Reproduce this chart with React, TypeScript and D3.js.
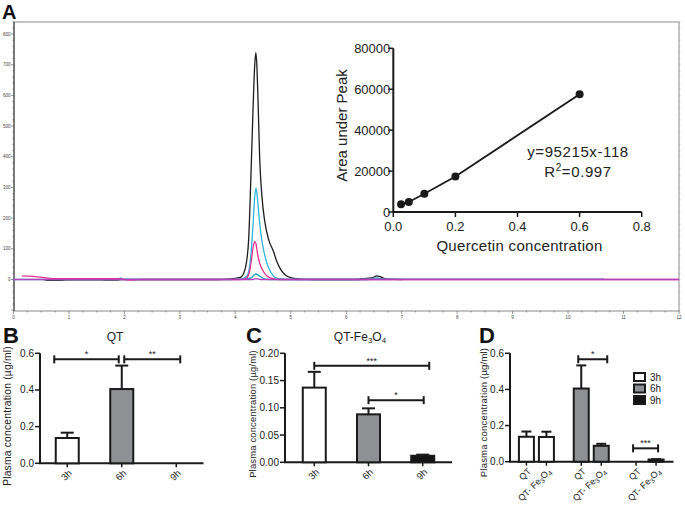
import React from 'react';
import * as d3 from 'd3';

const W = 685, H = 505;
const FONT = 'Arial, "Liberation Sans", Helvetica, sans-serif';

// ---------- Panel A: chromatogram traces (time in min, signal) ----------
const traceBlack: [number, number][] = [
  [0.55, 0], [0.65, -3], [0.85, -3], [0.95, -1], [1.55, -1], [1.65, -2], [1.85, -2], [1.95, 0],
  [3.7, 0], [3.9, 2], [4.0, 4], [4.1, 8], [4.15, 20], [4.2, 55], [4.24, 130], [4.28, 330],
  [4.32, 560], [4.35, 700], [4.37, 739], [4.39, 690], [4.41, 580], [4.44, 390], [4.48, 270],
  [4.53, 190], [4.6, 130], [4.68, 95], [4.75, 58], [4.82, 32], [4.9, 15], [5.0, 6], [5.15, 2],
  [5.4, 0], [6.2, 0], [6.3, 3], [6.45, 5], [6.5, 8], [6.55, 12], [6.6, 10], [6.68, 4], [6.8, 1], [7.0, 0],
];
const traceCyan: [number, number][] = [
  [0, 0], [1.88, 0], [1.93, 5], [1.98, 0], [3.9, 0], [4.1, 2], [4.2, 10], [4.25, 35], [4.29, 100],
  [4.32, 180], [4.35, 270], [4.37, 298], [4.39, 280], [4.42, 220], [4.46, 150], [4.5, 105],
  [4.55, 65], [4.6, 38], [4.66, 18], [4.72, 6], [4.8, 2], [5.0, 0], [6.3, 0], [6.45, 2],
  [6.55, 5], [6.65, 2], [6.8, 1], [10.65, 1],
];
const traceMagenta: [number, number][] = [
  [0.15, 12], [0.35, 10], [0.6, 5], [0.8, 3], [1.9, 3], [2.0, 0], [2.1, -2], [2.2, -1], [2.3, 0],
  [4.1, 0], [4.2, 5], [4.25, 22], [4.29, 62], [4.32, 105], [4.35, 123], [4.37, 118], [4.4, 85],
  [4.43, 58], [4.48, 35], [4.55, 15], [4.62, 6], [4.7, 2], [4.8, 0], [12, 0],
];
const traceTeal: [number, number][] = [
  [4.15, 0], [4.28, 5], [4.37, 18], [4.43, 12], [4.5, 4], [4.6, 0], [6.4, 0], [6.55, 2], [6.7, 0],
];
const traceViolet: [number, number][] = [
  [0, 0], [2.45, 0], [4.3, 0], [4.37, 3], [4.45, 0], [12, 0],
];
const chromTraces = [
  { pts: traceBlack, color: '#1d1d1d' },
  { pts: traceCyan, color: '#2fb4dc' },
  { pts: traceTeal, color: '#2aa6b8' },
  { pts: traceMagenta, color: '#e5318e' },
  { pts: traceViolet, color: '#b43fbf' },
];
const chromXTicks = d3.range(0, 13);
const chromYTicks = [0, 100, 200, 300, 400, 500, 600, 700, 800];

// ---------- Panel A inset: calibration ----------
const calConc = [0.025, 0.05, 0.1, 0.2, 0.6];
const calArea = [3800, 4900, 8900, 17300, 57600];
const insetXTicks = [0, 0.2, 0.4, 0.6, 0.8];
const insetYTicks = [0, 20000, 40000, 60000, 80000];

// ---------- Panels B-D ----------
const timeCats = ['3h', '6h', '9h'];
const qtMean = [0.138, 0.405, 0];
const qtSem = [0.029, 0.128, 0];
const feMean = [0.137, 0.088, 0.012];
const feSem = [0.029, 0.011, 0.002];
const timeFills = ['#ffffff', '#8e9093', '#141414'];
const ticksB = [0, 0.2, 0.4, 0.6];
const ticksC = [0, 0.05, 0.1, 0.15, 0.2];
const groupsD = ['QT', 'QT-Fe3O4'];

const INK = '#1a1a1a';

function Fe3O4({ small = 7 }: { small?: number }) {
  return (
    <>
      Fe<tspan dy={2} fontSize={small}>3</tspan><tspan dy={-2}>O</tspan><tspan dy={2} fontSize={small}>4</tspan>
    </>
  );
}

function Bar({ cx, w, y, v, sem, fill, cap }: any) {
  const top = y(v), base = y(0);
  return (
    <g>
      {sem > 0 && (
        <g stroke={INK} strokeWidth={2}>
          <line x1={cx} x2={cx} y1={top} y2={y(v + sem)} />
          <line x1={cx - cap / 2} x2={cx + cap / 2} y1={y(v + sem)} y2={y(v + sem)} />
        </g>
      )}
      {v > 0 && (
        <rect x={cx - w / 2} y={top} width={w} height={base - top} fill={fill} stroke={INK} strokeWidth={2} />
      )}
    </g>
  );
}

function Bracket({ x1, x2, yy, label }: any) {
  return (
    <g>
      <g stroke={INK} strokeWidth={2}>
        <line x1={x1} x2={x2} y1={yy} y2={yy} />
        <line x1={x1} x2={x1} y1={yy - 4} y2={yy + 4} />
        <line x1={x2} x2={x2} y1={yy - 4} y2={yy + 4} />
      </g>
      <text x={(x1 + x2) / 2} y={yy - 2} textAnchor="middle" fontSize={9} fill={INK}>{label}</text>
    </g>
  );
}

function YAxis({ x0, y, ticks, fmt, x1 }: any) {
  const [d0, d1] = y.domain();
  return (
    <g>
      <line x1={x0} x2={x0} y1={y(d0)} y2={y(d1)} stroke={INK} strokeWidth={2} />
      <line x1={x0 - 1} x2={x1} y1={y(0)} y2={y(0)} stroke={INK} strokeWidth={2} />
      {ticks.map((t: number) => (
        <g key={t}>
          <line x1={x0 - 5} x2={x0} y1={y(t)} y2={y(t)} stroke={INK} strokeWidth={1.5} />
          <text x={x0 - 6} y={y(t)} dy="0.35em" textAnchor="end" fontSize={10} fill="#222">{fmt(t)}</text>
        </g>
      ))}
    </g>
  );
}

function YLabel({ cx, cy, fs = 10.5 }: any) {
  return (
    <text transform={`translate(${cx},${cy}) rotate(-90)`} textAnchor="middle" dy="0.35em" fontSize={fs} fill="#222" letterSpacing={0.2}>
      Plasma concentration (µg/ml)
    </text>
  );
}

export default function App() {
  // Panel A
  const xA = d3.scaleLinear([0, 12], [13.5, 679]);
  const yA = d3.scaleLinear([0, 800], [279.5, 34]);
  const lineA = d3.line<[number, number]>().x(d => xA(d[0])).y(d => yA(d[1])).curve(d3.curveMonotoneX);
  const frame = { l: 14, r: 679, t: 22, b: 311 };
  const minorY = d3.range(-100, 841, 20);
  const minorX = d3.range(0, 12.01, 0.25);

  // inset
  const xI = d3.scaleLinear([0, 0.8], [393.3, 641.7]);
  const yI = d3.scaleLinear([0, 80000], [212, 48.3]);
  const lineI = d3.line<number>().x((_, i) => xI(calConc[i])).y(d => yI(d));

  // B
  const yB = d3.scaleLinear([0, 0.6], [463.3, 353.3]);
  const xB = d3.scalePoint<string>().domain(timeCats).range([40, 203.5]).padding(0.5);
  // C
  const yC = d3.scaleLinear([0, 0.2], [462.3, 353.3]);
  const xC = d3.scalePoint<string>().domain(timeCats).range([285, 452]).padding(0.54);
  // D
  const yD = d3.scaleLinear([0, 0.6], [461.7, 353.3]);
  const xD = d3.scaleBand<string>().domain(timeCats).range([509, 673.5]);
  const xDs = d3.scaleBand<string>().domain(groupsD).range([-20, 20]);
  const dCx = (t: string, g: string) => (xD(t) as number) + xD.bandwidth() / 2 + (xDs(g) as number) + xDs.bandwidth() / 2;

  const f1 = d3.format('.1f');
  const f2 = d3.format('.2f');

  return (
    <div style={{ position: 'fixed', left: 0, top: 0 }}>
      <svg width={W} height={H} style={{ display: 'block', background: '#fff' }} fontFamily={FONT}>
        <rect width={W} height={H} fill="#fff" />
        {/* ===== Panel A ===== */}
        <text x={2} y={18.5} fontSize={20} fontWeight="bold" fill="#111">A</text>
        <rect x={frame.l} y={frame.t} width={frame.r - frame.l} height={frame.b - frame.t} fill="none" stroke="#8a8a8a" strokeWidth={1} />
        <line x1={frame.l} x2={frame.l} y1={frame.t} y2={frame.b} stroke="#333" strokeWidth={1} />
        {minorY.map(v => (
          <g key={'my' + v}>
            <line x1={frame.l - (v % 100 === 0 ? 3 : 1.5)} x2={frame.l} y1={yA(v)} y2={yA(v)} stroke="#555" strokeWidth={0.6} />
            <line x1={frame.r} x2={frame.r + 1.5} y1={yA(v)} y2={yA(v)} stroke="#999" strokeWidth={0.5} />
          </g>
        ))}
        {chromYTicks.map(v => (
          <text key={'ly' + v} x={10.5} y={yA(v)} dy="0.35em" textAnchor="end" fontSize={4.5} fill="#444">{v}</text>
        ))}
        {minorX.map(v => (
          <line key={'mx' + v} x1={xA(v)} x2={xA(v)} y1={frame.b} y2={frame.b + (Math.abs(v - Math.round(v)) < 1e-6 ? 3 : 1.5)} stroke="#555" strokeWidth={0.6} />
        ))}
        {chromXTicks.map(v => (
          <text key={'lx' + v} x={xA(v)} y={frame.b + 7.5} textAnchor="middle" fontSize={4.5} fill="#444">{v}</text>
        ))}
        {chromTraces.map((tr, i) => (
          <path key={'tr' + i} d={lineA(tr.pts) as string} fill="none" stroke={tr.color} strokeWidth={1.3} />
        ))}

        {/* inset calibration */}
        <g>
          <line x1={xI(0)} x2={xI(0.8)} y1={yI(0)} y2={yI(0)} stroke={INK} strokeWidth={2} />
          <line x1={xI(0)} x2={xI(0)} y1={yI(0)} y2={yI(80000)} stroke={INK} strokeWidth={2} />
          {insetYTicks.map(t => (
            <g key={'iy' + t}>
              <line x1={xI(0) - 5} x2={xI(0)} y1={yI(t)} y2={yI(t)} stroke={INK} strokeWidth={1.5} />
              <text x={xI(0) - 3} y={yI(t)} dy="0.35em" textAnchor="end" fontSize={13} fill="#222">{t}</text>
            </g>
          ))}
          {insetXTicks.map(t => (
            <g key={'ix' + t}>
              <line x1={xI(t)} x2={xI(t)} y1={yI(0)} y2={yI(0) + 5} stroke={INK} strokeWidth={1.5} />
              <text x={xI(t)} y={231} textAnchor="middle" fontSize={13} fill="#222">{f1(t)}</text>
            </g>
          ))}
          <path d={lineI(calArea) as string} fill="none" stroke={INK} strokeWidth={1.8} />
          {calArea.map((a, i) => (
            <circle key={'pt' + i} cx={xI(calConc[i])} cy={yI(a)} r={4} fill={INK} />
          ))}
          <text transform={`translate(342,125.5) rotate(-90)`} textAnchor="middle" dy="0.35em" fontSize={15} fill="#222">Area under Peak</text>
          <text x={519.5} y={251} textAnchor="middle" fontSize={15} fill="#222" letterSpacing={0.3}>Quercetin concentration</text>
          <text x={578} y={157} textAnchor="middle" fontSize={15} fill="#222" letterSpacing={0.6}>y=95215x-118</text>
          <text x={578} y={177} textAnchor="middle" fontSize={15} fill="#222" letterSpacing={0.6}>
            R<tspan dy={-6} fontSize={10}>2</tspan><tspan dy={6}>=0.997</tspan>
          </text>
        </g>

        {/* ===== Panel B ===== */}
        <text x={3} y={343} fontSize={22} fontWeight="bold" fill="#111">B</text>
        <text x={115} y={341} textAnchor="middle" fontSize={12} fill="#222">QT</text>
        <YLabel cx={7} cy={416} fs={10.3} />
        <YAxis x0={40} x1={203.5} y={yB} ticks={ticksB} fmt={f1} />
        {timeCats.map((t, i) => (
          <g key={'b' + t}>
            <line x1={xB(t)} x2={xB(t)} y1={yB(0)} y2={yB(0) + 4} stroke={INK} strokeWidth={1.5} />
            <text transform={`translate(${(xB(t) as number) + 3},${yB(0) + 8}) rotate(-45)`} textAnchor="end" dy="0.35em" fontSize={9.5} fill="#222">{t}</text>
            <Bar cx={xB(t)} w={23} y={yB} v={qtMean[i]} sem={qtSem[i]} fill={timeFills[i]} cap={13} />
          </g>
        ))}
        <Bracket x1={(xB('3h') as number) - 13} x2={(xB('6h') as number) - 3} yy={yB(0.567)} label="*" />
        <Bracket x1={(xB('6h') as number) + 2.5} x2={(xB('9h') as number) + 4} yy={yB(0.567)} label="**" />

        {/* ===== Panel C ===== */}
        <text x={246} y={343} fontSize={22} fontWeight="bold" fill="#111">C</text>
        <text x={360} y={341} textAnchor="middle" fontSize={12} fill="#222">QT-<Fe3O4 small={8} /></text>
        <YLabel cx={253} cy={414} fs={9.4} />
        <YAxis x0={285} x1={452} y={yC} ticks={ticksC} fmt={f2} />
        {timeCats.map((t, i) => (
          <g key={'c' + t}>
            <line x1={xC(t)} x2={xC(t)} y1={yC(0)} y2={yC(0) + 4} stroke={INK} strokeWidth={1.5} />
            <text transform={`translate(${(xC(t) as number) + 3},${yC(0) + 8}) rotate(-45)`} textAnchor="end" dy="0.35em" fontSize={9.5} fill="#222">{t}</text>
            <Bar cx={xC(t)} w={23} y={yC} v={feMean[i]} sem={feSem[i]} fill={timeFills[i]} cap={13} />
          </g>
        ))}
        <Bracket x1={xC('3h') as number} x2={(xC('9h') as number) + 6.5} yy={yC(0.177)} label="***" />
        <Bracket x1={xC('6h') as number} x2={(xC('9h') as number) + 1} yy={yC(0.114)} label="*" />

        {/* ===== Panel D ===== */}
        <text x={479} y={343} fontSize={22} fontWeight="bold" fill="#111">D</text>
        <YLabel cx={484} cy={412.5} fs={9.5} />
        <YAxis x0={510} x1={673.5} y={yD} ticks={ticksB} fmt={f1} />
        {timeCats.map((t, i) => (
          <g key={'d' + t}>
            {groupsD.map((g, j) => {
              const cx = dCx(t, g);
              const v = j === 0 ? qtMean[i] : feMean[i];
              const s = j === 0 ? qtSem[i] : feSem[i];
              return (
                <g key={g}>
                  <line x1={cx} x2={cx} y1={yD(0)} y2={yD(0) + 4} stroke={INK} strokeWidth={1.5} />
                  <text transform={`translate(${cx + 3},${yD(0) + 8}) rotate(-45)`} textAnchor="end" dy="0.35em" fontSize={9} fill="#222">
                    {j === 0 ? 'QT' : <>QT- <Fe3O4 small={6.5} /></>}
                  </text>
                  <Bar cx={cx} w={15} y={yD} v={v} sem={s} fill={timeFills[i]} cap={10} />
                </g>
              );
            })}
          </g>
        ))}
        <Bracket x1={dCx('6h', 'QT') - 3} x2={dCx('6h', 'QT-Fe3O4') + 6} yy={yD(0.567)} label="*" />
        <Bracket x1={dCx('9h', 'QT') - 3} x2={dCx('9h', 'QT-Fe3O4') + 2} yy={yD(0.074)} label="***" />
        {timeCats.map((t, i) => (
          <g key={'lg' + t}>
            <rect x={634} y={373 + i * 11.5} width={11} height={8} fill={timeFills[i]} stroke={INK} strokeWidth={2} />
            <text x={650} y={377 + i * 11.5} dy="0.35em" fontSize={10} fill="#222">{t}</text>
          </g>
        ))}
      </svg>
    </div>
  );
}
